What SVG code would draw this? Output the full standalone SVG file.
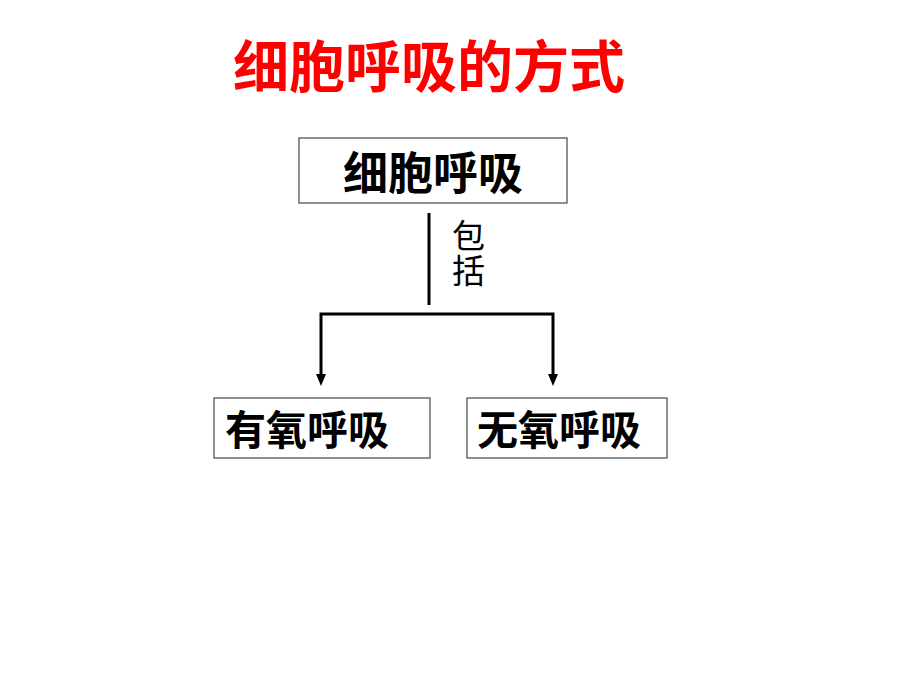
<svg xmlns="http://www.w3.org/2000/svg" width="920" height="690" viewBox="0 0 920 690">
<defs>
<style>
.cjk{font-family:"Liberation Sans","Noto Sans CJK SC",sans-serif;}
.box{fill:#fff;stroke:#555;stroke-width:1.3;}
.node{font-weight:bold;fill:#000;}
.line{stroke:#000;stroke-width:3;fill:none;}
</style>
</defs>
<rect width="920" height="690" fill="#fff"/>
<text class="cjk" x="429" y="87" font-size="56" font-weight="bold" fill="#ff0000" text-anchor="middle">细胞呼吸的方式</text>
<g id="connectors">
<line class="line" x1="429" y1="213" x2="429" y2="305"/>
<path class="line" d="M321,380 V314 H553 V380"/>
<path d="M316,374 L326,374 L321,386 Z" fill="#000"/>
<path d="M548,374 L558,374 L553,386 Z" fill="#000"/>
<text class="cjk" font-size="33" fill="#000"><tspan x="452" y="248">包</tspan><tspan x="452" y="283">括</tspan></text>
</g>
<g id="n1">
<rect class="box" x="299" y="138" width="268" height="65"/>
<text class="cjk node" x="433" y="190" font-size="45" text-anchor="middle">细胞呼吸</text>
</g>
<g id="n2">
<rect class="box" x="214" y="398" width="216" height="60"/>
<text class="cjk node" x="225" y="445" font-size="41">有氧呼吸</text>
</g>
<g id="n3">
<rect class="box" x="467" y="398" width="200" height="60"/>
<text class="cjk node" x="477" y="445" font-size="41">无氧呼吸</text>
</g>
</svg>
